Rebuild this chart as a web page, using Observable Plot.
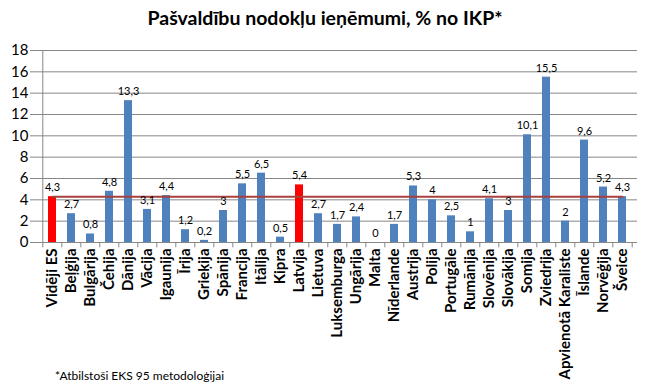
<!DOCTYPE html>
<html><head><meta charset="utf-8">
<script src="https://cdn.jsdelivr.net/npm/d3@7"></script>
<script src="https://cdn.jsdelivr.net/npm/@observablehq/plot@0.6"></script>
<style>
body{margin:0;background:#fff;}
#wrap{position:relative;width:650px;height:383px;overflow:hidden;font-family:Lato,"Open Sans",sans-serif;}
#title{position:absolute;top:6px;left:0;width:650px;text-align:center;font-weight:bold;font-size:19.5px;color:#000;}
#chart{position:absolute;top:38px;left:0;}
#cap{position:absolute;left:55px;top:368px;font-size:12px;color:#000;}
</style></head>
<body><div id="wrap">
<div id="title">Pašvaldību nodokļu ieņēmumi, % no IKP*</div>
<div id="chart"></div>
<div id="cap">*Atbilstoši EKS 95 metodoloģijai</div>
</div>
<script>
const countries = ["Vidēji ES","Beļģija","Bulgārija","Čehija","Dānija","Vācija","Igaunija","Īrija","Grieķija","Spānija","Francija","Itālija","Kipra","Latvija","Lietuva","Luksemburga","Ungārija","Malta","Nīderlande","Austrija","Polija","Portugāle","Rumānija","Slovēnija","Slovākija","Somija","Zviedrija","Apvienotā Karaliste","Īslande","Norvēģija","Šveice"];
const values = [4.3,2.7,0.8,4.8,13.3,3.1,4.4,1.2,0.2,3,5.5,6.5,0.5,5.4,2.7,1.7,2.4,0,1.7,5.3,4,2.5,1,4.1,3,10.1,15.5,2,9.6,5.2,4.3];
const highlighted = ["Vidēji ES","Latvija"];
const euAverage = 4.3;
const yTicks = [0,2,4,6,8,10,12,14,16,18];

const data = countries.map((c,i)=>({country:c, value:values[i]}));
const W = 650, H = 345, mL = 36, mR = 13, mT = 12, mB = 141;
const step = (W - mL - mR) / countries.length;
const fmt = v => String(v).replace(".", ",");

const plot = Plot.plot({
  width: W, height: H,
  marginLeft: mL, marginRight: mR, marginTop: mT, marginBottom: mB,
  style: {fontFamily: "Lato, 'Open Sans', sans-serif", color: "#000", background: "#fff", overflow: "visible"},
  x: {domain: countries, paddingInner: 0.6, paddingOuter: 0.3, label: null, axis: null},
  y: {domain: [0, 18], label: null},
  marks: [
    Plot.gridY(yTicks, {stroke: "#868686", strokeOpacity: 1, strokeWidth: 1}),
    Plot.axisY({ticks: yTicks, tickSize: 6, tickPadding: 2, fontSize: 15, stroke: "#868686"}),
    Plot.ruleX([countries[0]], {dx: -step/2, y1: 0, y2: 18, stroke: "#868686"}),
    Plot.barY(data, {x: "country", y: "value", fill: d => highlighted.includes(d.country) ? "#ff0000" : "#4f81bd"}),
    Plot.line([{x: countries[0], y: euAverage}, {x: countries[countries.length-1], y: euAverage}], {x: "x", y: "y", stroke: "#a8403d", strokeWidth: 2}),
    Plot.text(data, {x: "country", y: "value", text: d => fmt(d.value), dy: -9, fontSize: 11, fill: "#000"}),
    Plot.text(countries, {x: d => d, y: 0, text: d => d, rotate: -90, textAnchor: "end", dy: 6, fontSize: 15, fontWeight: "bold", fill: "#000"}),
    Plot.ruleY([0], {stroke: "#868686"}),
    Plot.ruleX(countries, {x: d => d, dx: -step/2, y1: 0, y2: -0.5, stroke: "#868686"}),
    Plot.ruleX([countries[countries.length-1]], {x: d => d, dx: step/2, y1: 0, y2: -0.5, stroke: "#868686"})
  ]
});
document.getElementById("chart").appendChild(plot);
</script>
</body></html>
